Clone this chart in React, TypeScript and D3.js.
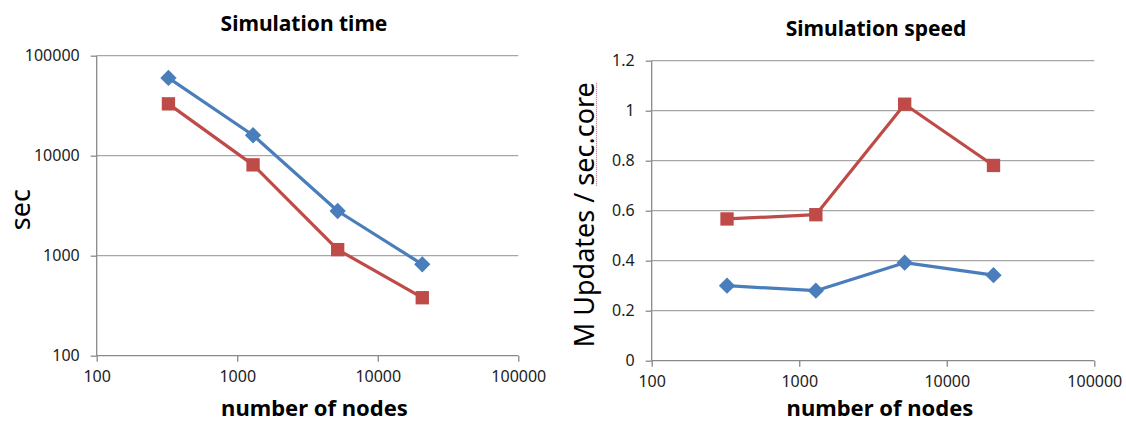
import React, { useRef, useEffect } from 'react';
import * as d3 from 'd3';

// number of nodes (x) shared by both panels
const nodes = [324, 1296, 5184, 20736];

// Simulation time (sec)
const timeBlue = [60000, 16000, 2800, 820];
const timeRed = [33000, 8100, 1150, 380];

// Simulation speed (M Updates / sec.core)
const speedBlue = [0.3, 0.28, 0.392, 0.342];
const speedRed = [0.567, 0.584, 1.026, 0.781];

const xTicks = [100, 1000, 10000, 100000];
const timeTicks = [100, 1000, 10000, 100000];
const speedTicks = [0, 0.2, 0.4, 0.6, 0.8, 1, 1.2];

const BLUE = '#4a7ebb';
const RED = '#be4b48';
const GRID = '#a6a6a6';
const AXIS = '#898989';
const TEXT = '#1c1c1c';
const FONT = "'Noto Sans', 'Liberation Sans', sans-serif";

const App = () => {
  const svgRef = useRef<SVGSVGElement>(null);

  useEffect(() => {
    const svg = d3.select(svgRef.current);
    svg.selectAll('*').remove();

    const drawPanel = (opts: {
      left: number; right: number; top: number; bottom: number;
      y: any; yTicks: number[]; title: string; yTitle: string;
      blue: number[]; red: number[]; yTitleX: number; titleX: number;
    }) => {
      const { left, right, top, bottom, y, yTicks } = opts;
      const x = d3.scaleLog().domain([100, 100000]).range([left, right]);
      const g = svg.append('g');

      // horizontal gridlines
      g.selectAll('line.grid')
        .data(yTicks.slice(1))
        .enter().append('line')
        .attr('x1', left).attr('x2', right)
        .attr('y1', d => y(d)).attr('y2', d => y(d))
        .attr('stroke', GRID).attr('stroke-width', 1.3);

      // y axis (ticks outside, labels on left)
      const yAxis = g.append('g')
        .attr('transform', `translate(${left},0)`)
        .call(d3.axisLeft(y).tickValues(yTicks).tickSize(6).tickPadding(11)
          .tickFormat(d => String(d)));
      // x axis
      const xAxis = g.append('g')
        .attr('transform', `translate(0,${bottom})`)
        .call(d3.axisBottom(x).tickValues(xTicks).tickSize(6).tickPadding(9)
          .tickFormat(d => String(d)));

      [yAxis, xAxis].forEach(a => {
        a.select('.domain').attr('stroke', AXIS).attr('stroke-width', 1.3);
        a.selectAll('.tick line').attr('stroke', AXIS).attr('stroke-width', 1.3);
        a.selectAll('.tick text')
          .attr('fill', TEXT)
          .style('font-family', FONT)
          .style('font-size', '16px');
      });
      yAxis.select('.domain').attr('d', `M0,${bottom}V${top}`);
      xAxis.select('.domain').attr('d', `M${left},0H${right}`);

      const line = d3.line<[number, number]>()
        .x(d => x(d[0]))
        .y(d => y(d[1]));

      const series = [
        { values: opts.blue, color: BLUE, shape: d3.symbolDiamond2, size: 170 },
        { values: opts.red, color: RED, shape: d3.symbolSquare, size: 178 },
      ];
      series.forEach(s => {
        const pts = nodes.map((n, i) => [n, s.values[i]] as [number, number]);
        g.append('path')
          .datum(pts)
          .attr('fill', 'none')
          .attr('stroke', s.color)
          .attr('stroke-width', 3.2)
          .attr('stroke-linejoin', 'round')
          .attr('d', line);
        g.selectAll(null)
          .data(pts)
          .enter().append('path')
          .attr('transform', d => `translate(${x(d[0])},${y(d[1])})`)
          .attr('d', d3.symbol().type(s.shape).size(s.size)())
          .attr('fill', s.color);
      });

      // chart title
      g.append('text')
        .attr('x', opts.titleX).attr('y', top - 25)
        .attr('text-anchor', 'middle')
        .attr('fill', '#000')
        .style('font-family', FONT)
        .style('font-weight', 'bold')
        .style('font-size', '21px')
        .text(opts.title);

      // x axis title
      g.append('text')
        .attr('x', (left + right) / 2 + 7).attr('y', 416)
        .attr('text-anchor', 'middle')
        .attr('fill', '#000')
        .style('font-family', FONT)
        .style('font-weight', 'bold')
        .style('font-size', '22px')
        .text('number of nodes');

      // y axis title
      const cy = (top + bottom) / 2 + 4;
      const yt = g.append('text')
        .attr('transform', `translate(${opts.yTitleX},${cy}) rotate(-90)`)
        .attr('text-anchor', 'middle')
        .attr('fill', '#000')
        .style('font-family', FONT)
        .style('font-size', '27px')
        .text(opts.yTitle);
      return { yt, cy };
    };

    const yTime = d3.scaleLog().domain([100, 100000]).range([355.7, 55.7]);
    drawPanel({
      left: 96.7, right: 518.3, top: 55.7, bottom: 355.7,
      y: yTime, yTicks: timeTicks, title: 'Simulation time', yTitle: 'sec',
      blue: timeBlue, red: timeRed, yTitleX: 30, titleX: 304,
    });

    const ySpeed = d3.scaleLinear().domain([0, 1.2]).range([360.7, 60.7]);
    const { yt, cy } = drawPanel({
      left: 651.7, right: 1094.3, top: 60.7, bottom: 360.7,
      y: ySpeed, yTicks: speedTicks, title: 'Simulation speed', yTitle: 'M Updates / sec.core',
      blue: speedBlue, red: speedRed, yTitleX: 594, titleX: 876,
    });

    // spell-check style red dotted underline under "sec.core"
    const node = yt.node() as SVGTextElement;
    const total = node.getComputedTextLength();
    const label = 'M Updates / sec.core';
    const start = node.getSubStringLength(0, label.indexOf('sec.core'));
    const yStart = cy + total / 2 - start;
    svg.append('line')
      .attr('x1', 596.5).attr('x2', 596.5)
      .attr('y1', yStart).attr('y2', cy - total / 2)
      .attr('stroke', '#e06060')
      .attr('stroke-width', 1.2)
      .attr('stroke-dasharray', '1,1');
  }, []);

  return (
    <svg ref={svgRef} width={1126} height={424}
      style={{ position: 'absolute', left: 0, top: 0, background: '#fff' }} />
  );
};

export default App;
